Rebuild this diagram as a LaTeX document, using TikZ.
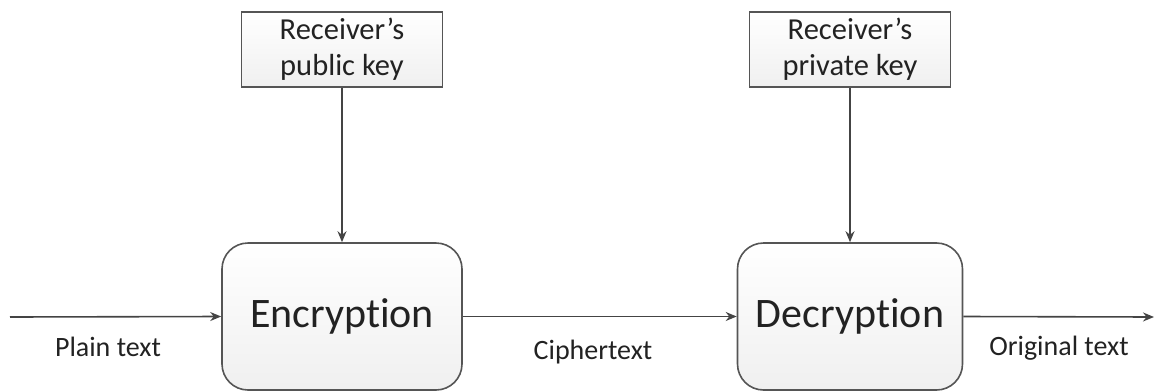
\documentclass[tikz,border=0pt]{standalone}
\usepackage{fontspec}
\setmainfont{Carlito}[Ligatures=NoCommon]
\usetikzlibrary{arrows.meta}
\definecolor{edge}{HTML}{555555}
\definecolor{linec}{HTML}{444444}
\definecolor{txt}{HTML}{222222}
\tikzset{
  keybox/.style={draw=edge, line width=1.6pt, top color=white, bottom color=black!6,
    minimum width=201pt, minimum height=75pt, inner sep=0pt, align=center,
    font=\fontsize{30.5}{36}\selectfont, text=txt},
  procbox/.style={draw=edge, line width=1.6pt, rounded corners=26pt, top color=white, bottom color=black!6,
    minimum height=147pt, inner sep=0pt, font=\fontsize{42}{50}\selectfont, text=txt},
  lbl/.style={font=\fontsize{28}{32}\selectfont, text=txt, inner sep=0pt},
  conn/.style={draw=linec, line width=1.6pt, -{Stealth[length=11pt,width=9pt]}}
}
\begin{document}
\begin{tikzpicture}[x=1pt,y=-1pt]
\useasboundingbox (0,0) rectangle (1156,391);
\node[keybox] (pub) at (342,49.5) {Receiver’s\\public key};
\node[keybox] (priv) at (850,49.5) {Receiver’s\\private key};
\node[procbox, minimum width=240pt] (enc) at (342,316.5) {Encryption};
\node[procbox, minimum width=225pt] (dec) at (850,316.5) {Decryption};
\coordinate (in) at (10,317);
\coordinate (out) at (1154,317);
\draw[conn] (pub.south) -- (enc.north);
\draw[conn] (priv.south) -- (dec.north);
\draw[conn] (in) -- (enc.west);
\draw[conn] (enc.east) -- (dec.west);
\draw[conn] (dec.east) -- (out);
\node[lbl] (plain) at (108,347) {Plain text};
\node[lbl] (cipher) at (593,352) {Ciphertext};
\node[lbl] (orig) at (1059,348) {Original text};
\end{tikzpicture}
\end{document}
